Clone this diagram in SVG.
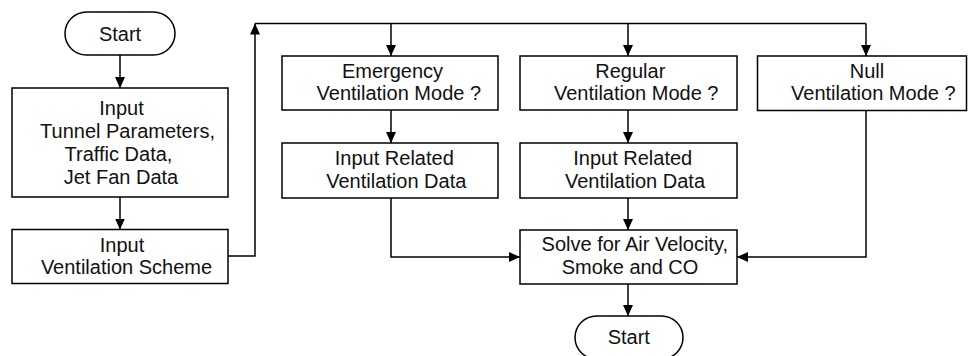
<svg xmlns="http://www.w3.org/2000/svg" width="968" height="356" viewBox="0 0 968 356">
<defs>
<marker id="arr" markerUnits="userSpaceOnUse" markerWidth="12" markerHeight="12" viewBox="0 0 12 12" refX="11" refY="6" orient="auto">
<path d="M0,1 L11,6 L0,11 Z" fill="#000"/>
</marker>
<style>
.box{fill:#fff;stroke:#000;stroke-width:1.5}
.ln{fill:none;stroke:#000;stroke-width:1.5}
.a{marker-end:url(#arr)}
text{font-family:"Liberation Sans",Arial,sans-serif;font-size:20px;fill:#111;text-anchor:middle}
</style>
</defs>
<rect width="968" height="356" fill="#fff"/>
<g id="connectors">
<path class="ln a" d="M120,55 V88"/>
<path class="ln a" d="M120,197 V229.5"/>
<path class="ln a" d="M228,256 H255 V23.5"/>
<path class="ln" d="M255,23.5 H866"/>
<path class="ln a" d="M391,23.5 V56"/>
<path class="ln a" d="M628,23.5 V56"/>
<path class="ln a" d="M866,23.5 V56"/>
<path class="ln a" d="M391,110 V143"/>
<path class="ln a" d="M628,110 V143"/>
<path class="ln a" d="M391,198 V257 H520"/>
<path class="ln a" d="M628,198 V230"/>
<path class="ln a" d="M866,110 V257 H737"/>
<path class="ln a" d="M628,284 V316"/>
</g>
<g id="start">
<rect class="box" x="65" y="12" width="110" height="43" rx="21.5"/>
<text x="120" y="40.5">Start</text>
</g>
<g id="input-params">
<rect class="box" x="12" y="88" width="216" height="109"/>
<text x="121.5" y="115">Input</text>
<text x="127.5" y="138">Tunnel Parameters,</text>
<text x="118.5" y="161">Traffic Data,</text>
<text x="121" y="184">Jet Fan Data</text>
</g>
<g id="input-scheme">
<rect class="box" x="12" y="229.5" width="216" height="54"/>
<text x="122" y="251.5">Input</text>
<text x="126.5" y="273.5">Ventilation Scheme</text>
</g>
<g id="emergency">
<rect class="box" x="282" y="56" width="216" height="54"/>
<text x="392.5" y="78">Emergency</text>
<text x="398.8" y="100">Ventilation Mode ?</text>
</g>
<g id="emergency-data">
<rect class="box" x="282" y="143" width="216" height="55"/>
<text x="394.3" y="165">Input Related</text>
<text x="396.3" y="187.5">Ventilation Data</text>
</g>
<g id="regular">
<rect class="box" x="520" y="56" width="217" height="54"/>
<text x="630.3" y="78">Regular</text>
<text x="636.2" y="100">Ventilation Mode ?</text>
</g>
<g id="regular-data">
<rect class="box" x="520" y="143" width="217" height="55"/>
<text x="632.7" y="165">Input Related</text>
<text x="635" y="187.5">Ventilation Data</text>
</g>
<g id="null">
<rect class="box" x="757.5" y="56" width="209" height="54.5"/>
<text x="867" y="78">Null</text>
<text x="873.3" y="100">Ventilation Mode ?</text>
</g>
<g id="solve">
<rect class="box" x="520" y="230" width="217" height="54"/>
<text x="634.8" y="251">Solve for Air Velocity,</text>
<text x="630" y="273.5">Smoke and CO</text>
</g>
<g id="end">
<rect class="box" x="575" y="316" width="108" height="43" rx="21.5"/>
<text x="628.8" y="344">Start</text>
</g>
</svg>
